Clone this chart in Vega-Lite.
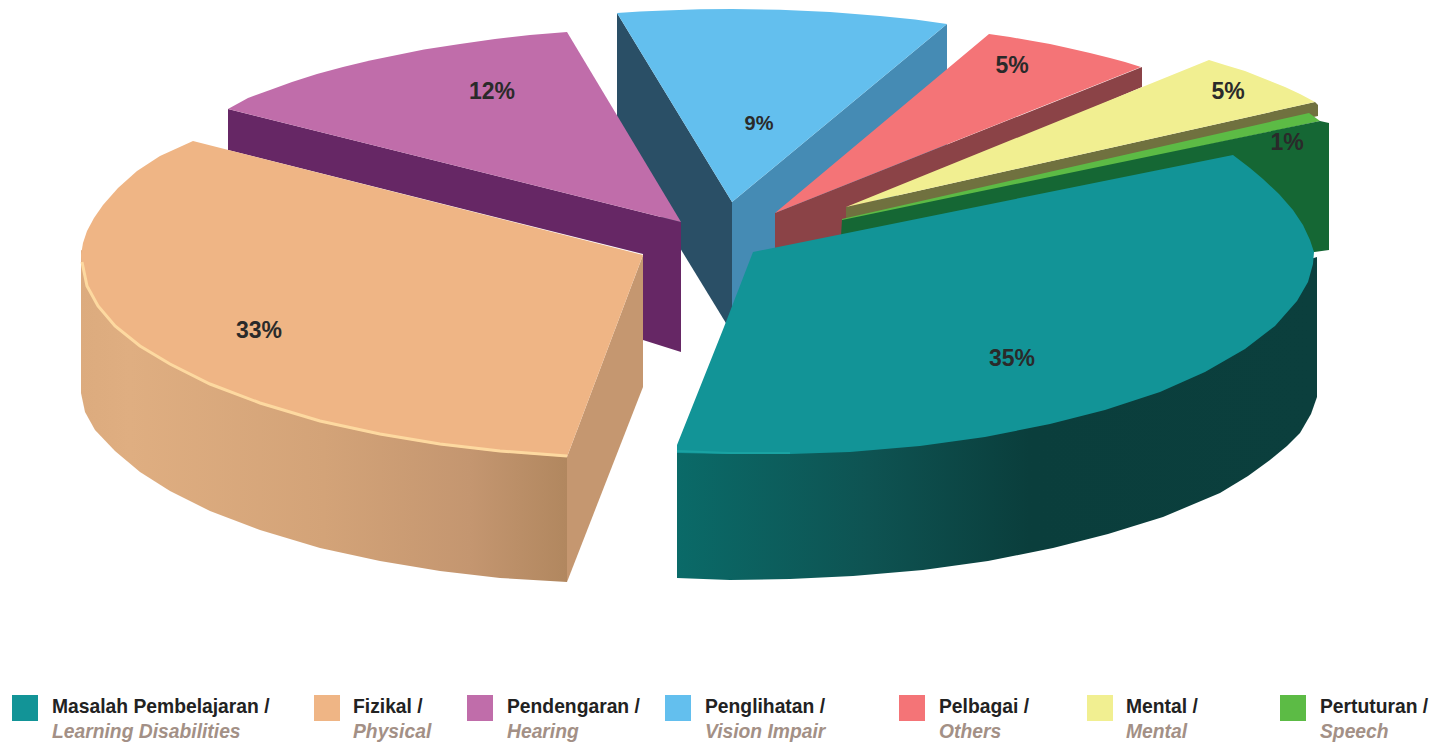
{"$schema":"https://vega.github.io/schema/vega-lite/v6.json","width":1437,"height":743,"padding":0,"autosize":{"type":"none"},"background":"white","config":{"view":{"stroke":null}},
"datasets":{
"faces":[
{"f":"blueLeft","i":1,"x":617,"y":13},{"f":"blueLeft","i":2,"x":732,"y":202},{"f":"blueLeft","i":3,"x":732,"y":333},{"f":"blueLeft","i":4,"x":617,"y":145},
{"f":"blueRight","i":1,"x":947,"y":24},{"f":"blueRight","i":2,"x":947,"y":154},{"f":"blueRight","i":3,"x":732,"y":333},{"f":"blueRight","i":4,"x":732,"y":202},
{"f":"blueTop","i":1,"x":617,"y":13},{"f":"blueTop","i":2,"x":640,"y":11.5},{"f":"blueTop","i":3,"x":665,"y":10.4},{"f":"blueTop","i":4,"x":700,"y":9.3},{"f":"blueTop","i":5,"x":732,"y":9},{"f":"blueTop","i":6,"x":780,"y":9.7},{"f":"blueTop","i":7,"x":830,"y":12},{"f":"blueTop","i":8,"x":880,"y":16},{"f":"blueTop","i":9,"x":915,"y":19.6},{"f":"blueTop","i":10,"x":947,"y":24},{"f":"blueTop","i":11,"x":732,"y":202},
{"f":"purpleWall","i":1,"x":228,"y":109},{"f":"purpleWall","i":2,"x":681,"y":222},{"f":"purpleWall","i":3,"x":681,"y":352},{"f":"purpleWall","i":4,"x":643,"y":340},{"f":"purpleWall","i":5,"x":643,"y":254},{"f":"purpleWall","i":6,"x":228,"y":150},
{"f":"purpleTop","i":1,"x":228,"y":109},{"f":"purpleTop","i":2,"x":248,"y":98},{"f":"purpleTop","i":3,"x":270,"y":90},{"f":"purpleTop","i":4,"x":292,"y":82},{"f":"purpleTop","i":5,"x":317,"y":74},{"f":"purpleTop","i":6,"x":343,"y":67},{"f":"purpleTop","i":7,"x":370,"y":60.5},{"f":"purpleTop","i":8,"x":397,"y":55},{"f":"purpleTop","i":9,"x":424,"y":49.5},{"f":"purpleTop","i":10,"x":460,"y":44},{"f":"purpleTop","i":11,"x":495,"y":39},{"f":"purpleTop","i":12,"x":530,"y":35},{"f":"purpleTop","i":13,"x":567,"y":32},{"f":"purpleTop","i":14,"x":681,"y":222},
{"f":"pinkWall","i":1,"x":775,"y":213},{"f":"pinkWall","i":2,"x":1142,"y":67},{"f":"pinkWall","i":3,"x":1142,"y":87},{"f":"pinkWall","i":4,"x":846,"y":213},{"f":"pinkWall","i":5,"x":846,"y":240},{"f":"pinkWall","i":6,"x":775,"y":262},
{"f":"pinkTop","i":1,"x":989,"y":34},{"f":"pinkTop","i":2,"x":1010,"y":37},{"f":"pinkTop","i":3,"x":1030,"y":40.6},{"f":"pinkTop","i":4,"x":1050,"y":44},{"f":"pinkTop","i":5,"x":1068,"y":48},{"f":"pinkTop","i":6,"x":1090,"y":53},{"f":"pinkTop","i":7,"x":1110,"y":58},{"f":"pinkTop","i":8,"x":1125,"y":62},{"f":"pinkTop","i":9,"x":1141,"y":67},{"f":"pinkTop","i":10,"x":775,"y":213},
{"f":"yellowWall","i":1,"x":846,"y":207},{"f":"yellowWall","i":2,"x":1315,"y":102},{"f":"yellowWall","i":3,"x":1318,"y":105},{"f":"yellowWall","i":4,"x":1318,"y":116},{"f":"yellowWall","i":5,"x":846,"y":222},
{"f":"yellowTop","i":1,"x":1209,"y":60},{"f":"yellowTop","i":2,"x":1225,"y":65},{"f":"yellowTop","i":3,"x":1245,"y":71},{"f":"yellowTop","i":4,"x":1265,"y":79},{"f":"yellowTop","i":5,"x":1285,"y":87},{"f":"yellowTop","i":6,"x":1300,"y":94},{"f":"yellowTop","i":7,"x":1315,"y":102},{"f":"yellowTop","i":8,"x":846,"y":207},
{"f":"greenTop","i":1,"x":842,"y":219},{"f":"greenTop","i":2,"x":1309,"y":113},{"f":"greenTop","i":3,"x":1320,"y":121},{"f":"greenTop","i":4,"x":842,"y":223},
{"f":"greenWall","i":1,"x":842,"y":220},{"f":"greenWall","i":2,"x":1320,"y":121},{"f":"greenWall","i":3,"x":1329,"y":123},{"f":"greenWall","i":4,"x":1329,"y":250},{"f":"greenWall","i":5,"x":1300,"y":254},{"f":"greenWall","i":6,"x":841,"y":236},
{"f":"peachCut","i":1,"x":643,"y":255},{"f":"peachCut","i":2,"x":643,"y":387},{"f":"peachCut","i":3,"x":567,"y":582},{"f":"peachCut","i":4,"x":567,"y":457},
{"f":"peachTop","i":1,"x":193,"y":141},{"f":"peachTop","i":2,"x":643,"y":255},{"f":"peachTop","i":3,"x":567,"y":457},{"f":"peachTop","i":4,"x":500,"y":452},{"f":"peachTop","i":5,"x":440,"y":445},{"f":"peachTop","i":6,"x":380,"y":435},{"f":"peachTop","i":7,"x":320,"y":422},{"f":"peachTop","i":8,"x":260,"y":404},{"f":"peachTop","i":9,"x":210,"y":385},{"f":"peachTop","i":10,"x":170,"y":365},{"f":"peachTop","i":11,"x":140,"y":347},{"f":"peachTop","i":12,"x":115,"y":327},{"f":"peachTop","i":13,"x":98,"y":307},{"f":"peachTop","i":14,"x":87,"y":287},{"f":"peachTop","i":15,"x":82,"y":268},{"f":"peachTop","i":16,"x":81,"y":255},{"f":"peachTop","i":17,"x":83,"y":243},{"f":"peachTop","i":18,"x":87,"y":231},{"f":"peachTop","i":19,"x":94,"y":218},{"f":"peachTop","i":20,"x":103,"y":205},{"f":"peachTop","i":21,"x":118,"y":188},{"f":"peachTop","i":22,"x":137,"y":171},{"f":"peachTop","i":23,"x":160,"y":156},
{"f":"tealTop","i":1,"x":753,"y":252},{"f":"tealTop","i":2,"x":1233,"y":155},{"f":"tealTop","i":3,"x":1250,"y":168},{"f":"tealTop","i":4,"x":1263,"y":179},{"f":"tealTop","i":5,"x":1279,"y":194},{"f":"tealTop","i":6,"x":1293,"y":210},{"f":"tealTop","i":7,"x":1303,"y":225},{"f":"tealTop","i":8,"x":1310,"y":240},{"f":"tealTop","i":9,"x":1314,"y":252},{"f":"tealTop","i":10,"x":1313,"y":264},{"f":"tealTop","i":11,"x":1308,"y":282},{"f":"tealTop","i":12,"x":1297,"y":301},{"f":"tealTop","i":13,"x":1275,"y":326},{"f":"tealTop","i":14,"x":1245,"y":349},{"f":"tealTop","i":15,"x":1205,"y":372},{"f":"tealTop","i":16,"x":1160,"y":392},{"f":"tealTop","i":17,"x":1105,"y":410},{"f":"tealTop","i":18,"x":1050,"y":424},{"f":"tealTop","i":19,"x":985,"y":437},{"f":"tealTop","i":20,"x":920,"y":446},{"f":"tealTop","i":21,"x":850,"y":452},{"f":"tealTop","i":22,"x":790,"y":454},{"f":"tealTop","i":23,"x":730,"y":454},{"f":"tealTop","i":24,"x":677,"y":453},{"f":"tealTop","i":25,"x":677,"y":445},{"f":"tealTop","i":26,"x":724,"y":327}
],
"peachWall":[
{"i":1,"x":81,"y":250},{"i":2,"x":81,"y":393},{"i":3,"x":85,"y":412},{"i":4,"x":95,"y":430},{"i":5,"x":115,"y":451},{"i":6,"x":140,"y":472},{"i":7,"x":170,"y":491},{"i":8,"x":210,"y":511},{"i":9,"x":260,"y":530},{"i":10,"x":320,"y":548},{"i":11,"x":380,"y":561},{"i":12,"x":440,"y":571},{"i":13,"x":500,"y":578},{"i":14,"x":567,"y":582},{"i":15,"x":567,"y":457}
],
"tealWall":[
{"i":1,"x":677,"y":453},{"i":2,"x":677,"y":578},{"i":3,"x":730,"y":580},{"i":4,"x":790,"y":579},{"i":5,"x":853,"y":576},{"i":6,"x":923,"y":570},{"i":7,"x":988,"y":561},{"i":8,"x":1053,"y":548},{"i":9,"x":1108,"y":534},{"i":10,"x":1163,"y":517},{"i":11,"x":1220,"y":493},{"i":12,"x":1248,"y":476},{"i":13,"x":1270,"y":460},{"i":14,"x":1287,"y":446},{"i":15,"x":1300,"y":433},{"i":16,"x":1311,"y":414},{"i":17,"x":1317,"y":397},{"i":18,"x":1317,"y":257}
],
"peachEdge":[
{"i":1,"x":567,"y":456},{"i":2,"x":500,"y":451},{"i":3,"x":440,"y":444},{"i":4,"x":380,"y":434},{"i":5,"x":320,"y":421},{"i":6,"x":260,"y":403},{"i":7,"x":210,"y":384},{"i":8,"x":170,"y":364},{"i":9,"x":140,"y":346},{"i":10,"x":115,"y":326},{"i":11,"x":98,"y":306},{"i":12,"x":87,"y":286},{"i":13,"x":82,"y":262}
],
"tealEdge":[
{"i":1,"x":677,"y":451},{"i":2,"x":730,"y":453},{"i":3,"x":790,"y":453}
],
"slices":[
{"slice":"Masalah Pembelajaran","en":"Learning Disabilities","share":"35%","lx":1012,"ly":359,"key":25,"tx":52},
{"slice":"Fizikal","en":"Physical","share":"33%","lx":259,"ly":331,"key":327,"tx":353},
{"slice":"Pendengaran","en":"Hearing","share":"12%","lx":492,"ly":92,"key":480,"tx":507},
{"slice":"Penglihatan","en":"Vision Impair","share":"9%","lx":759,"ly":124,"key":678,"tx":705},
{"slice":"Pelbagai","en":"Others","share":"5%","lx":1012,"ly":66,"key":912,"tx":939},
{"slice":"Mental","en":"Mental","share":"5%","lx":1228,"ly":92,"key":1100,"tx":1126},
{"slice":"Pertuturan","en":"Speech","share":"1%","lx":1287,"ly":143,"key":1293,"tx":1320}
]},
"layer":[
{"data":{"name":"peachWall"},"mark":{"type":"line","strokeWidth":0,"fill":{"gradient":"linear","x1":0,"y1":0,"x2":1,"y2":0,"stops":[{"offset":0,"color":"#dcab7e"},{"offset":0.1,"color":"#dfae81"},{"offset":0.5,"color":"#d3a378"},{"offset":0.8,"color":"#c49670"},{"offset":1,"color":"#b1875f"}]}},
"encoding":{"x":{"field":"x","type":"quantitative","scale":{"domain":[0,1437],"nice":false,"zero":false},"axis":null},"y":{"field":"y","type":"quantitative","scale":{"domain":[743,0],"nice":false,"zero":false},"axis":null},"order":{"field":"i"}}},
{"data":{"name":"tealWall"},"mark":{"type":"line","strokeWidth":0,"fill":{"gradient":"linear","x1":0,"y1":0,"x2":1,"y2":0,"stops":[{"offset":0,"color":"#0a6a68"},{"offset":0.3,"color":"#0e5352"},{"offset":0.55,"color":"#0a3e3c"},{"offset":1,"color":"#0b3f3d"}]}},
"encoding":{"x":{"field":"x","type":"quantitative","axis":null},"y":{"field":"y","type":"quantitative","axis":null},"order":{"field":"i"}}},
{"data":{"name":"faces"},"mark":{"type":"line","strokeWidth":0},
"encoding":{"x":{"field":"x","type":"quantitative","axis":null},"y":{"field":"y","type":"quantitative","axis":null},"order":{"field":"i"},"detail":{"field":"f"},
"fill":{"field":"f","type":"nominal","legend":null,"scale":{"domain":["blueLeft","blueRight","blueTop","purpleWall","purpleTop","pinkWall","pinkTop","yellowWall","yellowTop","greenTop","greenWall","peachCut","peachTop","tealTop"],"range":["#2a4f66","#458bb4","#63bfee","#662765","#c06daa","#8b4347","#f47477","#70713f","#f1ef91","#5cbb45","#156734","#c59770","#efb585","#129497"]}}}},
{"data":{"name":"peachEdge"},"mark":{"type":"line","stroke":"#fdd9a0","strokeWidth":3},"encoding":{"x":{"field":"x","type":"quantitative","axis":null},"y":{"field":"y","type":"quantitative","axis":null},"order":{"field":"i"}}},
{"data":{"name":"tealEdge"},"mark":{"type":"line","stroke":"#1aa3a3","strokeWidth":2},"encoding":{"x":{"field":"x","type":"quantitative","axis":null},"y":{"field":"y","type":"quantitative","axis":null},"order":{"field":"i"}}},
{"data":{"name":"slices"},"transform":[{"filter":"datum.share !== '9%'"}],"mark":{"type":"text","font":"Liberation Sans","fontWeight":"bold","fontSize":23,"fill":"#2a2a2a","align":"center","baseline":"middle"},"encoding":{"x":{"field":"lx","type":"quantitative","axis":null},"y":{"field":"ly","type":"quantitative","axis":null},"text":{"field":"share"}}},
{"data":{"name":"slices"},"transform":[{"filter":"datum.share === '9%'"}],"mark":{"type":"text","font":"Liberation Sans","fontWeight":"bold","fontSize":20,"fill":"#2a2a2a","align":"center","baseline":"middle"},"encoding":{"x":{"field":"lx","type":"quantitative","axis":null},"y":{"field":"ly","type":"quantitative","axis":null},"text":{"field":"share"}}},
{"data":{"name":"slices"},"mark":{"type":"point","shape":"square","filled":true,"size":676,"opacity":1,"strokeWidth":0},"encoding":{"x":{"field":"key","type":"quantitative","axis":null},"y":{"datum":708,"type":"quantitative","axis":null},"fill":{"field":"slice","type":"nominal","legend":null,"scale":{"domain":["Masalah Pembelajaran","Fizikal","Pendengaran","Penglihatan","Pelbagai","Mental","Pertuturan"],"range":["#129497","#efb585","#c06daa","#63bfee","#f47477","#f1ef91","#5cbb45"]}}}},
{"data":{"name":"slices"},"transform":[{"calculate":"datum.slice + ' /'","as":"line1"}],"mark":{"type":"text","font":"Liberation Sans","fontWeight":"bold","fontSize":19.3,"fill":"#222222","align":"left","baseline":"middle"},"encoding":{"x":{"field":"tx","type":"quantitative","axis":null},"y":{"datum":707,"type":"quantitative","axis":null},"text":{"field":"line1"}}},
{"data":{"name":"slices"},"mark":{"type":"text","font":"Liberation Sans","fontWeight":"bold","fontStyle":"italic","fontSize":19.3,"fill":"#a39086","align":"left","baseline":"middle"},"encoding":{"x":{"field":"tx","type":"quantitative","axis":null},"y":{"datum":732,"type":"quantitative","axis":null},"text":{"field":"en"}}}
],
"resolve":{"scale":{"fill":"independent"}}}
